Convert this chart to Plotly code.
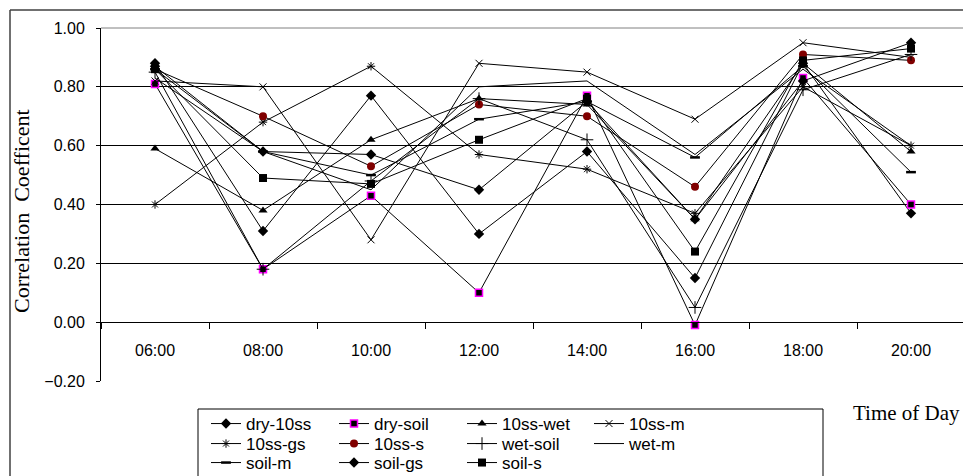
import plotly.graph_objects as go

times = ["06:00", "08:00", "10:00", "12:00", "14:00", "16:00", "18:00", "20:00"]

dry_10ss = [0.88, 0.31, 0.77, 0.30, 0.58, 0.15, 0.88, 0.37]
dry_soil = [0.81, 0.18, 0.43, 0.10, 0.77, -0.01, 0.83, 0.40]
ss10_wet = [0.59, 0.38, 0.62, 0.76, 0.74, 0.35, 0.88, 0.58]
ss10_m = [0.82, 0.80, 0.28, 0.88, 0.85, 0.69, 0.95, 0.90]
ss10_gs = [0.40, 0.68, 0.87, 0.57, 0.52, 0.37, 0.80, 0.60]
ss10_s = [0.86, 0.70, 0.53, 0.74, 0.70, 0.46, 0.91, 0.89]
wet_soil = [0.85, 0.18, 0.48, 0.76, 0.62, 0.05, 0.79, 0.91]
wet_m = [0.83, 0.58, 0.45, 0.80, 0.82, 0.57, 0.86, 0.60]
soil_m = [0.86, 0.58, 0.50, 0.69, 0.75, 0.56, 0.87, 0.51]
soil_gs = [0.87, 0.58, 0.57, 0.45, 0.75, 0.35, 0.82, 0.95]
soil_s = [0.86, 0.49, 0.47, 0.62, 0.76, 0.24, 0.89, 0.93]

names = ["dry-10ss", "dry-soil", "10ss-wet", "10ss-m",
         "10ss-gs", "10ss-s", "wet-soil", "wet-m",
         "soil-m", "soil-gs", "soil-s"]
values = [dry_10ss, dry_soil, ss10_wet, ss10_m,
          ss10_gs, ss10_s, wet_soil, wet_m,
          soil_m, soil_gs, soil_s]

markers = [
    dict(symbol="diamond", size=8, color="black"),
    dict(symbol="square", size=7, color="black", line=dict(color="#FF00FF", width=1.5)),
    dict(symbol="triangle-up", size=8, color="black"),
    dict(symbol="x-thin-open", size=7, color="black", line=dict(color="black", width=1)),
    dict(symbol="asterisk-open", size=7, color="black", line=dict(color="black", width=1)),
    dict(symbol="circle", size=8, color="#800000"),
    dict(symbol="cross-thin-open", size=9, color="black", line=dict(color="black", width=1)),
    None,
    dict(symbol="line-ew-open", size=7, color="black", line=dict(color="black", width=2.5)),
    dict(symbol="diamond", size=8, color="black"),
    dict(symbol="square", size=8, color="black"),
]

W, H = 971, 476
OFF = 8  # the page body margin shifts the figure by 8px
# plot area in screen pixels: x 101..965, y 28..381
L = 101 - OFF
T = 28 - OFF
R = W - (965 - OFF)
B = H - (381 - OFF)
pw, ph = W - L - R, H - T - B


def px_x(p):
    return (p - OFF - L) / pw


def px_y(p):
    return (H - B - (p - OFF)) / ph


legend_ids = ["legend"] + ["legend%d" % k for k in range(2, 12)]
col_x = [206, 334, 462, 589]
row_y = [424, 444, 463]
legend_font = dict(family="Liberation Sans, Arial, sans-serif", size=17, color="black")

fig = go.Figure()
legends = {}
for i, (n, v, m) in enumerate(zip(names, values, markers)):
    lid = legend_ids[i]
    kw = dict(x=times, y=v, name=n, line=dict(color="black", width=1), legend=lid)
    if m is None:
        kw["mode"] = "lines"
    else:
        kw["mode"] = "lines+markers"
        kw["marker"] = m
    fig.add_trace(go.Scatter(**kw))
    legends[lid] = dict(
        x=px_x(col_x[i % 4]), xanchor="left", y=px_y(row_y[i // 4]), yanchor="middle",
        orientation="v", bgcolor="rgba(0,0,0,0)", borderwidth=0,
        font=legend_font, itemwidth=30,
    )

tick_font = dict(family="Liberation Sans, Arial, sans-serif", size=16, color="black")
serif = "Liberation Serif, Times New Roman, serif"

fig.update_layout(
    width=W, height=H,
    margin=dict(l=L, r=R, t=T, b=B, pad=0, autoexpand=False),
    paper_bgcolor="white", plot_bgcolor="white",
    showlegend=True,
    **legends,
    xaxis=dict(
        type="category", range=[-0.5, 7.5], anchor="free", position=0.2 / 1.2,
        showline=True, linecolor="black", linewidth=1,
        ticks="outside", tickson="boundaries", ticklen=6, tickcolor="black",
        showgrid=False, zeroline=False, ticklabelstandoff=14,
        tickfont=tick_font,
    ),
    yaxis=dict(
        range=[-0.2, 1.0], tick0=0, dtick=0.2, tickformat=".2f",
        showgrid=True, gridcolor="black", gridwidth=1,
        zeroline=True, zerolinecolor="black", zerolinewidth=1,
        showline=True, linecolor="black", linewidth=1,
        ticks="outside", ticklen=4, tickcolor="black", ticklabelstandoff=8,
        tickfont=tick_font,
    ),
    shapes=[
        dict(type="line", xref="paper", yref="paper", x0=0, x1=1, y0=1, y1=1,
             line=dict(color="#808080", width=1), layer="above"),
        dict(type="line", xref="paper", yref="paper", x0=1, x1=1, y0=0, y1=1,
             line=dict(color="#808080", width=1), layer="above"),
        dict(type="rect", xref="paper", yref="paper",
             x0=px_x(198), x1=px_x(823), y0=px_y(409), y1=px_y(490),
             line=dict(color="black", width=1), fillcolor="rgba(0,0,0,0)", layer="above"),
        # outer chart border (top and left edges visible)
        dict(type="line", xref="paper", yref="paper",
             x0=px_x(10), x1=px_x(990), y0=px_y(10), y1=px_y(10),
             line=dict(color="#404040", width=1.5), layer="above"),
        dict(type="line", xref="paper", yref="paper",
             x0=px_x(10), x1=px_x(10), y0=px_y(10), y1=px_y(495),
             line=dict(color="#404040", width=1.5), layer="above"),
    ],
    annotations=[
        dict(text="Correlation  Coefficent", xref="paper", yref="paper",
             x=px_x(22), y=px_y(211), textangle=-90, showarrow=False,
             font=dict(family=serif, size=22, color="black"),
             xanchor="center", yanchor="middle"),
        dict(text="Time of Day", xref="paper", yref="paper",
             x=px_x(906), y=px_y(413), showarrow=False,
             font=dict(family=serif, size=21, color="black"),
             xanchor="center", yanchor="middle"),
    ],
)

fig.write_html("out.html")
